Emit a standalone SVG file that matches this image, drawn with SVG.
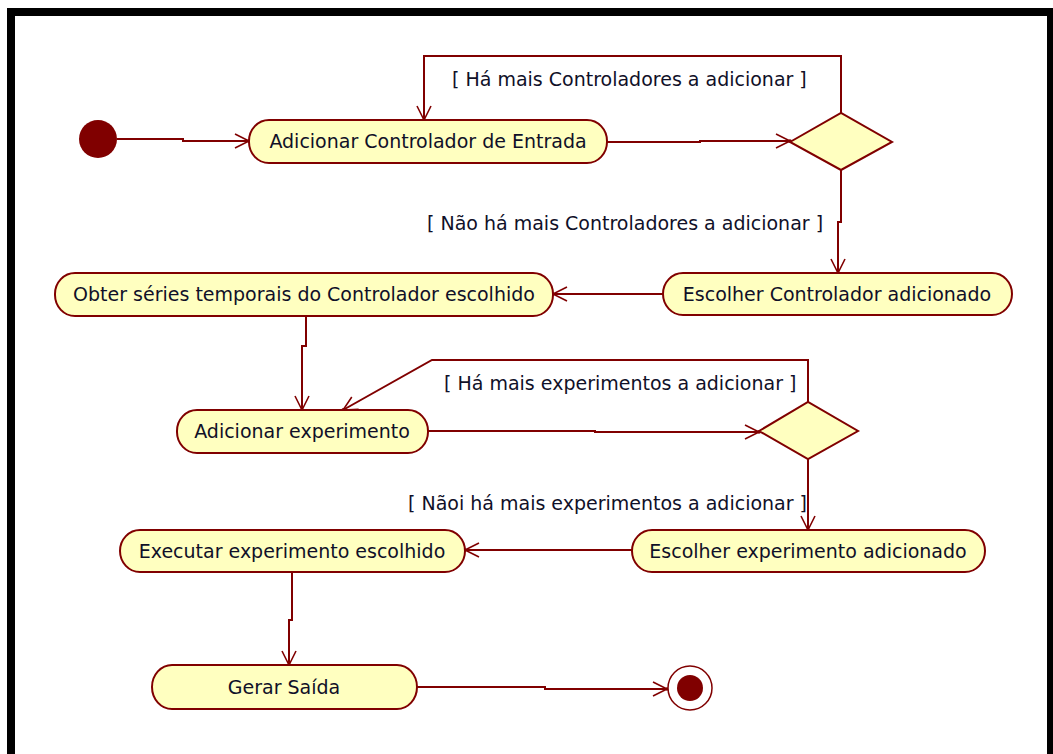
<svg xmlns="http://www.w3.org/2000/svg" width="1053" height="754" viewBox="0 0 1053 754">
  <defs>
    <style>
      .action { fill: #FFFFC0; stroke: #800000; stroke-width: 2; }
      .decision { fill: #FFFFC0; stroke: #800000; stroke-width: 2; }
      .label { font-family: "DejaVu Sans", "Liberation Sans", sans-serif; font-size: 19px; fill: #101028; }
      .flow { fill: none; stroke: #800000; stroke-width: 2; marker-end: url(#open-arrow); }
    </style>
    <marker id="open-arrow" markerUnits="userSpaceOnUse" markerWidth="20" markerHeight="20" viewBox="0 0 20 20" refX="16" refY="10" orient="auto">
      <path d="M2,3 L16,10 L2,17" fill="none" stroke="#800000" stroke-width="1.6"/>
      <circle cx="16" cy="10" r="1.8" fill="#800000"/>
    </marker>
  </defs>

  <rect x="0" y="0" width="1053" height="754" fill="#ffffff"/>
  <!-- frame -->
  <rect x="11" y="12" width="1040" height="760" fill="#ffffff" stroke="#000000" stroke-width="8"/>

  <!-- connectors -->
  <g id="connectors">
    <path class="flow" d="M117,139 H183 V141 H249"/>
    <path class="flow" d="M607,142 H700 V141 H790"/>
    <path class="flow" d="M841,113 V56 H424 V120"/>
    <path class="flow" d="M841,170 V222 H838 V273"/>
    <path class="flow" d="M663,294 H553"/>
    <path class="flow" d="M306,316 V346 H302 V410"/>
    <path class="flow" d="M808,402 V360 H432 L343,410"/>
    <path class="flow" d="M428,431 H595 V432 H759"/>
    <path class="flow" d="M808,459 V530"/>
    <path class="flow" d="M632,550 H465"/>
    <path class="flow" d="M292,572 V620 H289 V665"/>
    <path class="flow" d="M417,687 H545 V689 H667"/>
    <text class="label" x="452" y="86">[ Há mais Controladores a adicionar ]</text>
    <text class="label" x="427" y="230">[ Não há mais Controladores a adicionar ]</text>
    <text class="label" x="444" y="390">[ Há mais experimentos a adicionar ]</text>
    <text class="label" x="408" y="510">[ Nãoi há mais experimentos a adicionar ]</text>
  </g>

  <g id="initial">
    <circle cx="98" cy="139" r="19" fill="#800000"/>
  </g>

  <g id="adicionar-controlador">
    <rect class="action" x="249" y="120" width="358" height="43" rx="20" ry="21"/>
    <text class="label" x="428" y="148" text-anchor="middle">Adicionar Controlador de Entrada</text>
  </g>

  <g id="decisao-controladores">
    <polygon class="decision" points="790,142 841,113 892,142 841,170"/>
  </g>

  <g id="escolher-controlador">
    <rect class="action" x="663" y="273" width="349" height="42" rx="20" ry="21"/>
    <text class="label" x="837" y="301" text-anchor="middle">Escolher Controlador adicionado</text>
  </g>

  <g id="obter-series">
    <rect class="action" x="55" y="273" width="498" height="43" rx="20" ry="21"/>
    <text class="label" x="304" y="301" text-anchor="middle">Obter séries temporais do Controlador escolhido</text>
  </g>

  <g id="adicionar-experimento">
    <rect class="action" x="177" y="410" width="251" height="43" rx="20" ry="21"/>
    <text class="label" x="302" y="438" text-anchor="middle">Adicionar experimento</text>
  </g>

  <g id="decisao-experimentos">
    <polygon class="decision" points="759,431 808,402 858,431 808,459"/>
  </g>

  <g id="escolher-experimento">
    <rect class="action" x="632" y="530" width="353" height="42" rx="20" ry="21"/>
    <text class="label" x="808" y="558" text-anchor="middle">Escolher experimento adicionado</text>
  </g>

  <g id="executar-experimento">
    <rect class="action" x="120" y="530" width="345" height="42" rx="20" ry="21"/>
    <text class="label" x="292" y="558" text-anchor="middle">Executar experimento escolhido</text>
  </g>

  <g id="gerar-saida">
    <rect class="action" x="152" y="665" width="265" height="44" rx="20" ry="22"/>
    <text class="label" x="284" y="694" text-anchor="middle">Gerar Saída</text>
  </g>

  <g id="final">
    <circle cx="690" cy="688" r="22" fill="#ffffff" stroke="#800000" stroke-width="1.5"/>
    <circle cx="690" cy="688" r="13" fill="#800000"/>
  </g>
</svg>
